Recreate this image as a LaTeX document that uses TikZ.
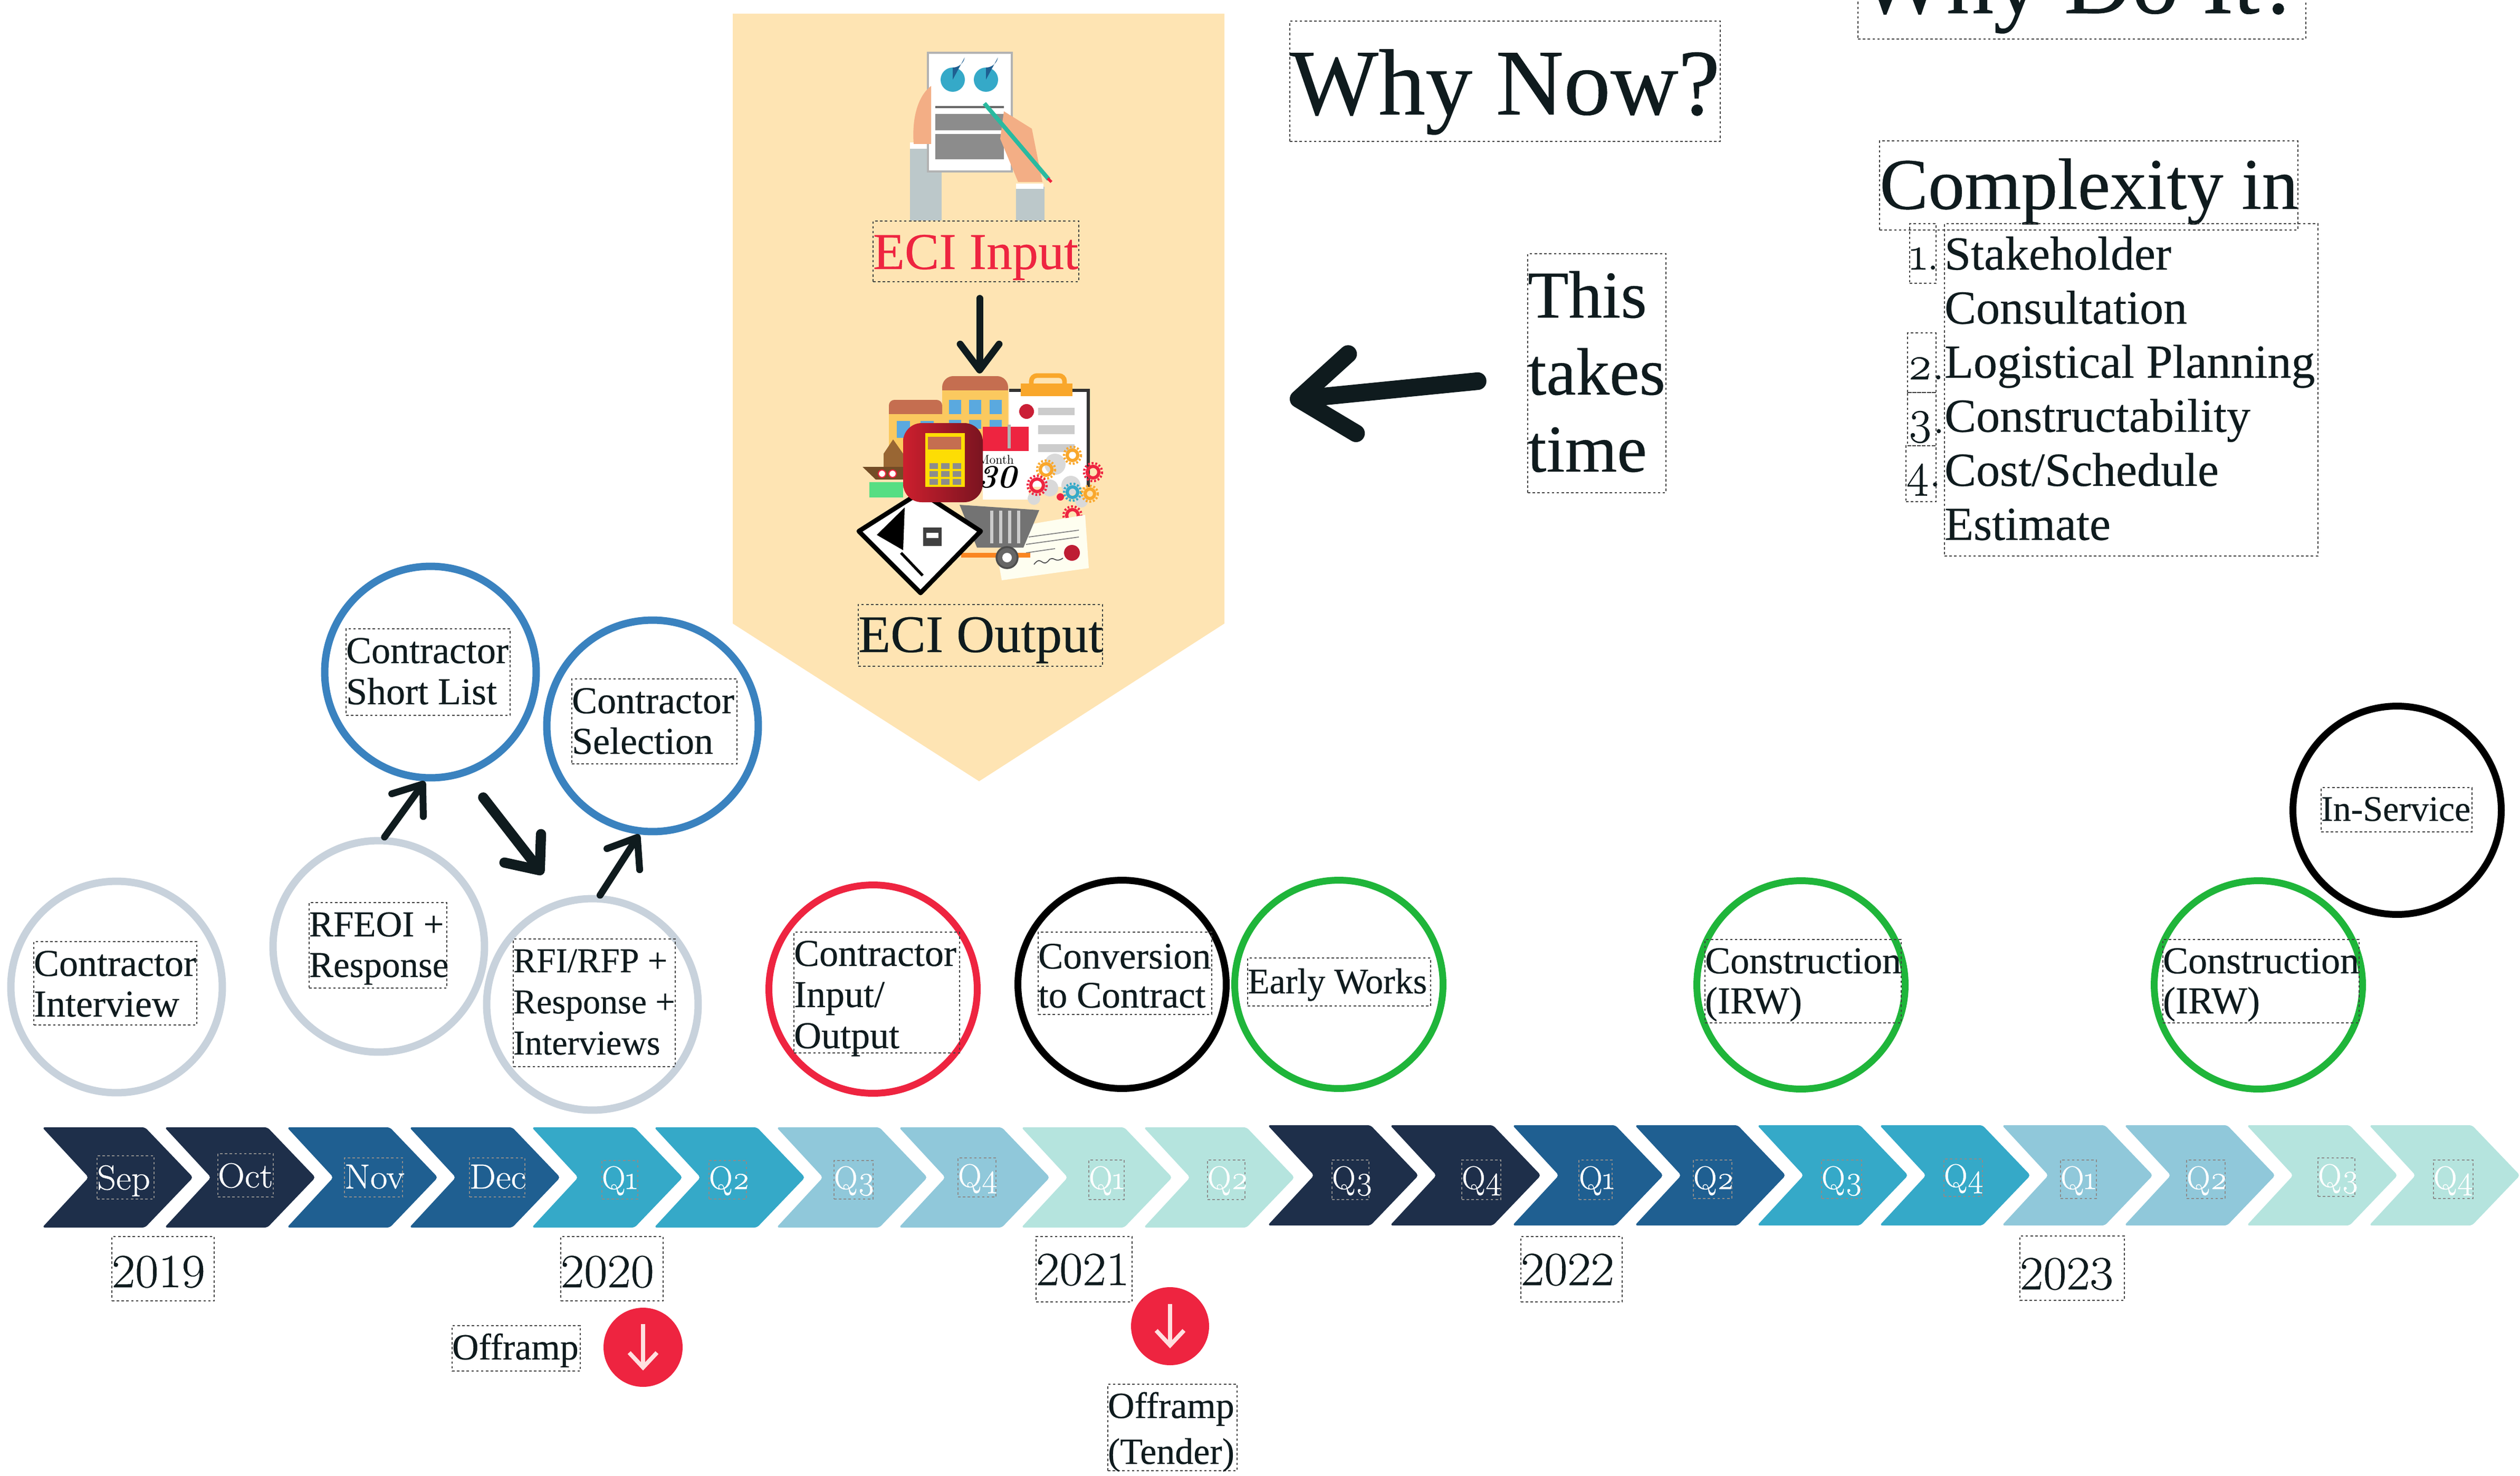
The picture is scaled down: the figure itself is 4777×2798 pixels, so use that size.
\documentclass[tikz,border=0pt]{standalone}
\usepackage{fontspec}
\usetikzlibrary{arrows.meta}
\newfontfamily\cormo[FakeBold=0.35]{Liberation Serif}
\newfontfamily\lmo[Numbers=OldStyle,FakeBold=0.6]{Latin Modern Roman}
\newfontfamily\lmr[FakeBold=0.6,FakeStretch=1.07]{Latin Modern Roman}
\newfontfamily\lmp{Latin Modern Roman}
\newcommand{\fs}[2]{\fontsize{\fpeval{#1*0.56906}}{\fpeval{#2*0.56906}}\selectfont}
% [opts]{name}{x1}{y1}{x2}{y2}{font}{baseline y}{text}
\newcommand{\lab}[9][]{%
  \node[dbox,#1,minimum width=\fpeval{(#5-(#3))*0.56906}pt,minimum height=\fpeval{(#6-(#4))*0.56906}pt]
    (#2) at ({(#3+#5)/2},{(#4+#6)/2})
    {#7\hbox to \fpeval{(#5-(#3))*0.56906}pt{\smash{\raisebox{\fpeval{((#4+#6)/2-(#8))*0.56906}pt}{\begin{tabular}[t]{@{}l@{}}#9\end{tabular}}}\hss}};}
\newcommand{\chev}[3]{\fill[#3,rounded corners=3pt] (#1,#2) -- ({#1+195},#2) -- ({#1+286},{#2+95}) -- ({#1+195},{#2+190}) -- (#1,{#2+190}) -- ({#1+88},{#2+95}) -- cycle;}
\definecolor{navy}{HTML}{1E2F4A}
\definecolor{bluec}{HTML}{1F5F91}
\definecolor{teal2}{HTML}{35A9C8}
\definecolor{ltblue}{HTML}{90C8DA}
\definecolor{mint}{HTML}{B5E4DE}
\definecolor{cream}{HTML}{FEE4B3}
\definecolor{redc}{HTML}{EE2440}
\definecolor{ringgray}{HTML}{C8D2DC}
\definecolor{ringblue}{HTML}{3A82BF}
\definecolor{ringgreen}{HTML}{1FB53A}
\definecolor{ink}{HTML}{0F1B1E}
\definecolor{peach}{HTML}{F3AE85}
\definecolor{sleeve}{HTML}{BCC8CA}
\definecolor{roof}{HTML}{C56E50}
\definecolor{wall}{HTML}{FBC95F}
\definecolor{win}{HTML}{5AA9DF}
\definecolor{orng}{HTML}{F9A72B}
\definecolor{appred}{HTML}{CC1F2E}
\definecolor{appdark}{HTML}{7A1420}
\tikzset{
  dbox/.style={draw=black!75,line width=1.1pt,dash pattern=on 2.6pt off 2.6pt,inner sep=0pt,text=ink},
  chevbox/.style={draw=black!45,text=white},
  stage/.style={circle,draw,inner sep=0pt,minimum size=395*0.56906pt,line width=13*0.56906pt},
  bigstage/.style={stage,minimum size=401*0.56906pt,line width=14*0.56906pt},
  flow/.style={draw=ink,line cap=round,line width=13*0.56906pt,-{Straight Barb[length=28pt,width=42pt,round]}},
  rampmark/.style={white!88!red,line width=4.5pt,-{Straight Barb[length=16pt,width=30pt]}},
}
\begin{document}
\begin{tikzpicture}[x=0.02cm,y=-0.02cm]
\useasboundingbox (0,0) rectangle (4777,2798);
% panel
\fill[cream] (1389,26) -- (2321,26) -- (2321,1182) -- (1856,1481) -- (1389,1182) -- cycle;
% input icon
\fill[sleeve] (1725,278) rectangle (1785,418);
\fill[sleeve] (1926,354) rectangle (1980,418);
\fill[white] (1725,270) rectangle (1765,282);
\fill[white] (1926,348) rectangle (1978,358);
\filldraw[fill=white,draw=black!30,line width=1.8pt] (1759,100) rectangle (1918,325);
\fill[teal2] (1806,151) circle[radius=23];
\fill[teal2] (1869,151) circle[radius=23];
\fill[bluec] (1806,151) -- (1806,128) arc[start angle=90,end angle=10,radius=23] -- cycle;
\fill[bluec] (1869,151) -- (1869,128) arc[start angle=90,end angle=10,radius=23] -- cycle;
\draw[black!60,line width=2pt] (1773,203) -- (1903,203);
\fill[black!45] (1773,216) rectangle (1903,247);
\fill[black!45] (1773,254) rectangle (1903,302);
\fill[peach] (1732,273) .. controls (1728,220) and (1742,180) .. (1765,163) -- (1765,273) -- cycle;
\fill[peach] (1896,263) -- (1903,211) -- (1956,244) -- (1976,345) -- (1930,345) -- cycle;
\draw[teal2!80!green,line width=4.5pt] (1866,196) -- (1988,340);
\draw[redc,line width=3pt] (1986,338) -- (1993,345);
\lab[text=redc]{eciin}{1655}{419}{2045}{534}{\cormo\fs{98}{98}}{510}{ECI Input}
\coordinate (outtop) at (1857,708);
\draw[flow,shorten <=18pt] (1857,534) -- (outtop);
% output icon
\fill[black!80] (1913,737) rectangle (2066,923);
\fill[white] (1913,743) rectangle (2060,923);
\draw[orng,line width=5pt,rounded corners=6pt] (1955,730) -- (1955,712) -- (2018,712) -- (2018,730);
\fill[orng] (1935,727) rectangle (2033,751);
\foreach \yy/\yz in {773/787,806/823,842/857} \fill[black!20] (1968,\yy) rectangle (2037,\yz);
\fill[redc!85!black] (1946,780) circle[radius=14];
\fill[roof,rounded corners=12pt] (1786,713) rectangle (1911,760);
\fill[wall] (1786,740) rectangle (1911,850);
\foreach \xa/\xb in {1799/1822,1837/1860,1876/1899} {\fill[win] (\xa,758) rectangle (\xb,785); \fill[win] (\xa,796) rectangle (\xb,813);}
\fill[roof,rounded corners=6pt] (1685,758) rectangle (1786,795);
\fill[wall] (1685,785) rectangle (1786,861);
\fill[win] (1700,798) rectangle (1725,830);
\fill[win] (1745,798) rectangle (1770,830);
\fill[ltblue!60!green] (1648,914) rectangle (1712,943);
\fill[brown!80!black] (1675,860) -- (1693,833) -- (1712,860) -- (1712,890) -- (1675,890) -- cycle;
\fill[brown!60!black] (1635,885) -- (1712,885) -- (1712,909) -- (1660,909) -- cycle;
\foreach \xx in {1672,1692} \filldraw[fill=white,draw=redc,line width=1.2pt] (\xx,898) circle[radius=7];
\fill[white] (1863,809) rectangle (1950,947);
\fill[redc] (1863,809) rectangle (1950,855);
\draw[black!30,line width=3pt] (1913,805) -- (1913,850);
\node[inner sep=0pt,text=black] (monthtxt) at (1888,871) {\lmp\fs{24}{24}Month};
\node[inner sep=0pt,text=black] (thirty) at (1890,905) {\lmp\fs{62}{62}\bfseries\itshape 30};
\foreach \xx/\yy/\rr in {2000/880/20,2030/920/18,1990/925/16,2050/950/12,1960/945/12}
  \fill[black!15] (\xx,\yy) circle[radius=\rr];
\foreach \xx/\yy/\rr/\cc in {2072/895/11/redc,2033/863/10/orng,1983/890/11/orng,1966/920/12/redc,2033/933/10/teal2,2066/936/9/orng,2033/977/11/redc}
  {\draw[\cc,line width=3.5pt] (\xx,\yy) circle[radius=\rr];
   \draw[\cc,line width=2.5pt,dash pattern=on 2pt off 2pt] (\xx,\yy) circle[radius={\rr+6}];}
\fill[redc] (2010,942) circle[radius=7];
\fill[black!5!yellow!6!white] (1946,995) -- (2057,976) -- (2064,1077) -- (1899,1100) -- (1890,1050) -- cycle;
\draw[black!50,line width=1pt] (1950,1018) -- (2045,1005) (1945,1032) -- (2045,1018) (1945,1048) -- (2000,1040);
\draw[black!70,line width=1pt] (1960,1070) .. controls (1975,1050) and (1975,1080) .. (1990,1060) .. controls (2000,1055) and (2000,1068) .. (2015,1058);
\fill[redc!80!black] (2032,1048) circle[radius=15];
\fill[orng!80!red] (1822,1048) rectangle (1953,1057);
\fill[black!55] (1819,957) -- (1970,967) -- (1940,1038) -- (1852,1038) -- cycle;
\foreach \xx in {1880,1897,1914,1931} \draw[black!20,line width=3pt] (\xx,968) -- (\xx,1030);
\filldraw[fill=black!60,draw=black!70,line width=2pt] (1909,1057) circle[radius=20];
\fill[white] (1909,1057) circle[radius=9];
\filldraw[fill=white,draw=black,line width=5pt,line join=round] (1628,1007) -- (1745,933) -- (1859,1007) -- (1745,1124) -- cycle;
\fill[black] (1662,1014) -- (1715,962) -- (1712,1043) -- cycle;
\draw[black,line width=3pt] (1708,1048) -- (1749,1091);
\fill[black!75] (1750,1000) rectangle (1785,1035);
\fill[white] (1756,1010) rectangle (1779,1020);
\shade[left color=appred,middle color=appred,right color=appdark,rounded corners=20pt] (1712,802) rectangle (1863,952);
\fill[yellow!80!orange] (1754,821) rectangle (1829,923);
\fill[roof] (1759,828) rectangle (1822,852);
\foreach \xx in {1762,1784,1806} \foreach \yy in {878,893,908} \fill[black!45] (\xx,\yy) rectangle ({\xx+16},{\yy+11});
\lab{eciout}{1627}{1146}{2090}{1263}{\cormo\fs{100}{100}}{1236}{ECI Output}
% top right
\lab{whynow}{2445}{40}{3261}{268}{\cormo\fs{178}{178}}{217}{Why Now?}
\lab{whydo}{3522}{-154}{4371}{74}{\cormo\fs{178}{178}}{25}{Why Do It?}
\lab{complex}{3563}{267}{4356}{436}{\cormo\fs{138}{138}}{396}{Complexity in}
\lab{steps}{3686}{424}{4394}{1054}{\cormo\fs{90}{102.5}}{511}{Stakeholder\\Consultation\\Logistical Planning\\Constructability\\Cost/Schedule\\Estimate}
\lab{num1}{3620}{424}{3670}{537}{\lmo\fs{90}{90}}{511}{1.}
\lab{num2}{3616}{631}{3670}{744}{\lmo\fs{90}{90}}{719}{2.}
\lab{num3}{3616}{744}{3670}{845}{\lmo\fs{90}{90}}{821}{3.}
\lab{num4}{3613}{845}{3670}{951}{\lmo\fs{90}{90}}{922}{4.}
\lab{thistime}{2896}{481}{3158}{934}{\cormo\fs{127}{146}}{602}{This\\takes\\time}
\coordinate (bigtail) at ([shift={(-94,15)}]thistime.west);
\coordinate (bigtip) at (2445,758);
\draw[draw=ink,line cap=round,line width=19pt,-{Straight Barb[length=58pt,width=86pt,round,line width=19pt]}] (bigtail) -- (bigtip);
% stage circles
\node[bigstage,draw=ringgray] (cinterview) at (221,1871) {};
\node[bigstage,draw=ringgray] (crfeoi) at (718,1794) {};
\node[bigstage,draw=ringgray] (crfi) at (1123,1904) {};
\node[bigstage,draw=ringblue] (cshort) at (816,1274) {};
\node[bigstage,draw=ringblue] (cselect) at (1237,1376) {};
\node[stage,draw=redc] (cinput) at (1655,1875) {};
\node[stage,draw=black] (cconv) at (2127,1866) {};
\node[stage,draw=ringgreen] (cearly) at (2538,1866) {};
\node[stage,draw=ringgreen] (cirwa) at (3414,1867) {};
\node[stage,draw=ringgreen] (cirwb) at (4281,1867) {};
\node[stage,draw=black] (cservice) at (4544,1536) {};
\draw[flow] (crfeoi.87) -- (cshort.267);
\draw[flow] (crfi.86) -- (cselect.263);
\draw[flow,line width=11pt,shorten <=30pt,shorten >=34pt,-{Straight Barb[length=30pt,width=50pt,round]}] (cshort.289) -- (crfi.106);
\lab{tinterview}{64}{1785}{373}{1943}{\cormo\fs{72}{77}}{1850}{Contractor\\Interview}
\lab{trfeoi}{586}{1711}{847}{1873}{\cormo\fs{69}{77}}{1775}{RFEOI +\\Response}
\lab{trfi}{973}{1780}{1280}{2022}{\cormo\fs{66}{78}}{1843}{RFI/RFP +\\Response +\\Interviews}
\lab{tshort}{656}{1192}{967}{1356}{\cormo\fs{72}{78}}{1257}{Contractor\\Short List}
\lab{tselect}{1084}{1287}{1397}{1448}{\cormo\fs{72}{77}}{1352}{Contractor\\Selection}
\lab{tinput}{1505}{1767}{1819}{1996}{\cormo\fs{72}{78}}{1831}{Contractor\\Input/\\Output}
\lab{tconv}{1968}{1767}{2297}{1923}{\cormo\fs{71}{74}}{1836}{Conversion\\to Contract}
\lab{tearly}{2365}{1816}{2712}{1907}{\cormo\fs{68}{68}}{1883}{Early Works}
\lab{tirwa}{3232}{1781}{3604}{1939}{\cormo\fs{72}{76}}{1845}{Construction\\(IRW)}
\lab{tirwb}{4100}{1781}{4472}{1939}{\cormo\fs{72}{76}}{1845}{Construction\\(IRW)}
\lab{tservice}{4400}{1493}{4686}{1577}{\cormo\fs{68}{68}}{1556}{In-Service}
% chevrons
\chev{80}{2137}{navy}\chev{312}{2137}{navy}
\chev{544}{2137}{bluec}\chev{776}{2137}{bluec}
\chev{1008}{2137}{teal2}\chev{1240}{2137}{teal2}
\chev{1472}{2137}{ltblue}\chev{1704}{2137}{ltblue}
\chev{1936}{2137}{mint}\chev{2168}{2137}{mint}
\chev{2403}{2133}{navy}\chev{2635}{2133}{navy}
\chev{2867}{2133}{bluec}\chev{3099}{2133}{bluec}
\chev{3331}{2133}{teal2}\chev{3563}{2133}{teal2}
\chev{3795}{2133}{ltblue}\chev{4027}{2133}{ltblue}
\chev{4259}{2133}{mint}\chev{4491}{2133}{mint}
\lab[chevbox]{mSep}{184}{2191}{292}{2273}{\lmr\fs{66}{66}}{2255}{Sep}
\lab[chevbox]{mOct}{413}{2187}{518}{2269}{\lmr\fs{66}{66}}{2251}{Oct}
\lab[chevbox]{mNov}{653}{2195}{763}{2269}{\lmr\fs{66}{66}}{2253}{Nov}
\lab[chevbox]{mDec}{890}{2195}{995}{2269}{\lmr\fs{66}{66}}{2253}{Dec}
\lab[chevbox]{qa}{1141}{2200}{1209}{2273}{\lmo\fs{62}{62}}{2254}{Q1}
\lab[chevbox]{qb}{1344}{2200}{1415}{2273}{\lmo\fs{62}{62}}{2254}{Q2}
\lab[chevbox]{qc}{1581}{2200}{1655}{2273}{\lmo\fs{62}{62}}{2254}{Q3}
\lab[chevbox]{qd}{1816}{2195}{1888}{2269}{\lmo\fs{62}{62}}{2250}{Q4}
\lab[chevbox]{qe}{2064}{2199}{2131}{2274}{\lmo\fs{62}{62}}{2254}{Q1}
\lab[chevbox]{qf}{2289}{2199}{2360}{2274}{\lmo\fs{62}{62}}{2254}{Q2}
\lab[chevbox]{qg}{2525}{2199}{2595}{2274}{\lmo\fs{62}{62}}{2254}{Q3}
\lab[chevbox]{qh}{2771}{2199}{2845}{2274}{\lmo\fs{62}{62}}{2254}{Q4}
\lab[chevbox]{qi}{2993}{2199}{3056}{2274}{\lmo\fs{62}{62}}{2254}{Q1}
\lab[chevbox]{qj}{3210}{2199}{3283}{2272}{\lmo\fs{62}{62}}{2254}{Q2}
\lab[chevbox]{qk}{3453}{2199}{3529}{2272}{\lmo\fs{62}{62}}{2254}{Q3}
\lab[chevbox]{ql}{3685}{2197}{3758}{2268}{\lmo\fs{62}{62}}{2250}{Q4}
\lab[chevbox]{qm}{3906}{2199}{3974}{2272}{\lmo\fs{62}{62}}{2254}{Q1}
\lab[chevbox]{qn}{4145}{2199}{4218}{2272}{\lmo\fs{62}{62}}{2254}{Q2}
\lab[chevbox]{qo}{4394}{2195}{4464}{2268}{\lmo\fs{62}{62}}{2250}{Q3}
\lab[chevbox]{qp}{4613}{2199}{4688}{2272}{\lmo\fs{62}{62}}{2254}{Q4}
% years
\lab{y19}{212}{2344}{406}{2466}{\lmr\fs{90}{90}}{2440}{2019}
\lab{y20}{1063}{2344}{1257}{2466}{\lmr\fs{90}{90}}{2440}{2020}
\lab{y21}{1964}{2344}{2146}{2468}{\lmr\fs{90}{90}}{2436}{2021}
\lab{y22}{2883}{2344}{3075}{2468}{\lmr\fs{90}{90}}{2436}{2022}
\lab{y23}{3829}{2343}{4027}{2465}{\lmr\fs{90}{90}}{2444}{2023}
% offramps
\lab{offa}{857}{2513}{1100}{2599}{\cormo\fs{70}{70}}{2577}{Offramp}
\lab{offb}{2100}{2624}{2345}{2788}{\cormo\fs{70}{87}}{2688}{Offramp\\(Tender)}
\node[circle,fill=redc,inner sep=0pt,minimum size=150*0.56906pt] (rampa) at (1219,2554) {};
\node[circle,fill=redc,inner sep=0pt,minimum size=148*0.56906pt] (rampb) at (2218,2514) {};
\coordinate (ta) at (1219,2510); \coordinate (tb) at (1219,2598);
\coordinate (tc) at (2218,2472); \coordinate (td) at (2218,2556);
\draw[rampmark] (ta) -- (tb);
\draw[rampmark] (tc) -- (td);
\end{tikzpicture}
\end{document}
